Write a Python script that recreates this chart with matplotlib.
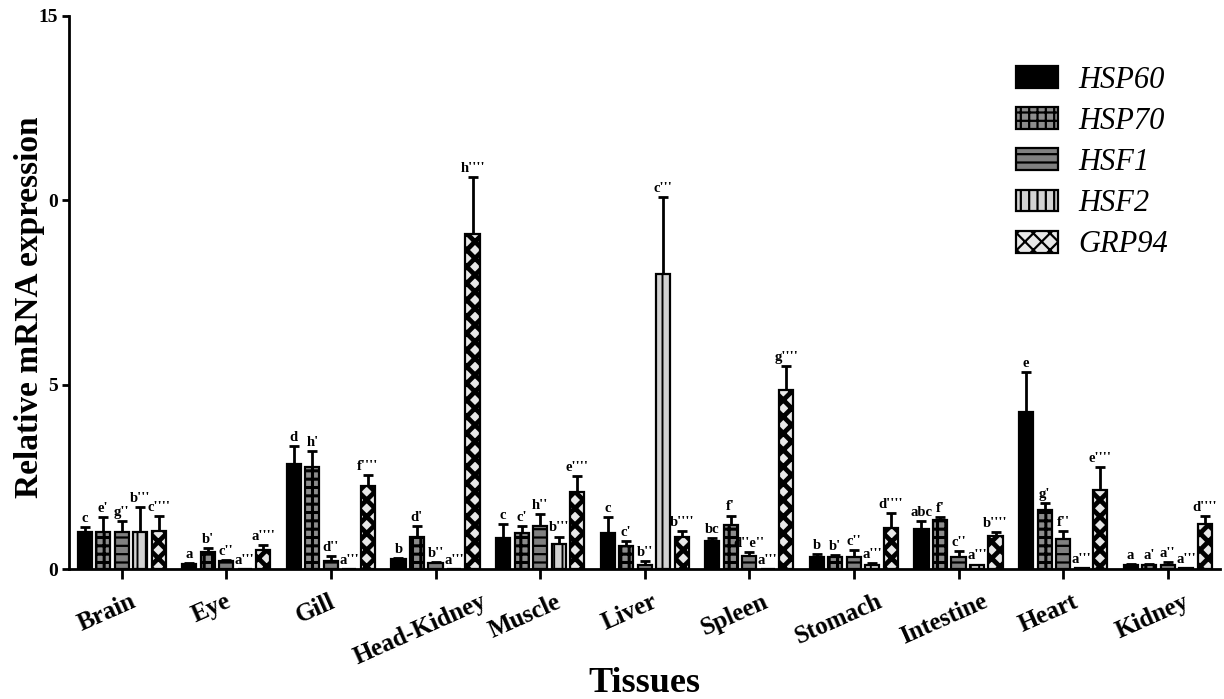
import matplotlib
matplotlib.use("Agg")
import matplotlib.pyplot as plt
import matplotlib.transforms as mtransforms
import numpy as np

# ---------------- data ----------------
tissues = ["Brain", "Eye", "Gill", "Head-Kidney", "Muscle", "Liver",
           "Spleen", "Stomach", "Intestine", "Heart", "Kidney"]
genes = ["HSP60", "HSP70", "HSF1", "HSF2", "GRP94"]

hsp60 = [1.00, 0.13, 2.85, 0.27, 0.84, 0.97, 0.75, 0.32, 1.09, 4.25, 0.12]
hsp60_err = [0.13, 0.02, 0.48, 0.03, 0.38, 0.43, 0.10, 0.09, 0.20, 1.09, 0.02]
hsp70 = [1.00, 0.46, 2.76, 0.88, 0.97, 0.63, 1.20, 0.32, 1.32, 1.61, 0.11]
hsp70_err = [0.40, 0.11, 0.44, 0.29, 0.20, 0.12, 0.25, 0.05, 0.08, 0.18, 0.02]
hsf1 = [1.00, 0.21, 0.23, 0.16, 1.17, 0.12, 0.35, 0.32, 0.32, 0.81, 0.12]
hsf1_err = [0.31, 0.04, 0.11, 0.04, 0.32, 0.10, 0.11, 0.20, 0.16, 0.21, 0.08]
hsf2 = [1.00, 0.01, 0.01, 0.01, 0.68, 7.99, 0.01, 0.12, 0.10, 0.02, 0.02]
hsf2_err = [0.67, 0.0, 0.0, 0.0, 0.20, 2.11, 0.0, 0.03, 0.02, 0.0, 0.0]
grp94 = [1.04, 0.52, 2.26, 9.10, 2.10, 0.88, 4.85, 1.11, 0.89, 2.14, 1.22]
grp94_err = [0.39, 0.12, 0.30, 1.54, 0.43, 0.14, 0.65, 0.41, 0.11, 0.63, 0.21]

hsp60_sig = ["c", "a", "d", "b", "c", "c", "bc", "b", "abc", "e", "a"]
hsp70_sig = ["e'", "b'", "h'", "d'", "c'", "c'", "f'", "b'", "f'", "g'", "a'"]
hsf1_sig = ["g''", "c''", "d''", "b''", "h''", "b''", "d''e''", "c''", "c''", "f''", "a''"]
hsf2_sig = ["b'''", "a'''", "a'''", "a'''", "b'''", "c'''", "a'''", "a'''", "a'''", "a'''", "a'''"]
grp94_sig = ["c''''", "a''''", "f''''", "h''''", "e''''", "b''''", "g''''", "d''''", "b''''", "e''''", "d''''"]

ytick_vals = [0, 5, 10, 15]
ytick_labels = ["0", "5", "0", "15"]

# ---------------- style ----------------
plt.rcParams['font.family'] = ['Liberation Serif', 'DejaVu Serif']
plt.rcParams['hatch.linewidth'] = 1.6

W, H = 1224, 699
fig = plt.figure(figsize=(W / 100, H / 100), dpi=100)
ax = fig.add_axes([69 / W, (H - 569) / H, (1220 - 69) / W, (569 - 16) / H])

x = np.arange(len(tissues))
offset = 0.177
width = 0.135

series = [
    (hsp60, hsp60_err, hsp60_sig, dict(facecolor="black", hatch=None)),
    (hsp70, hsp70_err, hsp70_sig, dict(facecolor="#8c8c8c", hatch="++")),
    (hsf1, hsf1_err, hsf1_sig, dict(facecolor="#808080", hatch="--")),
    (hsf2, hsf2_err, hsf2_sig, dict(facecolor="#d2d2d2", hatch="||")),
    (grp94, grp94_err, grp94_sig, dict(facecolor="#e8e8e8", hatch="xx")),
]
hatch_lw = [1.6, 2.2, 1.6, 1.4, 3.4]

handles = []
for i, (vals, errs, sigs, sty) in enumerate(series):
    pos = x + (i - 2) * offset
    with plt.rc_context({'hatch.linewidth': hatch_lw[i]}):
        bars = ax.bar(pos, vals, width, color=sty["facecolor"], edgecolor="black",
                      linewidth=1.6, hatch=sty["hatch"], label=genes[i], zorder=3)
    handles.append(bars)
    errs_arr = np.array(errs)
    ax.errorbar(pos, vals, yerr=[np.zeros_like(errs_arr), errs_arr], fmt="none",
                ecolor="black", elinewidth=2.0, capsize=3.5, capthick=2.0, zorder=2)
    for p, v, e, s in zip(pos, vals, errs, sigs):
        ax.annotate(s, (p, v + e), xytext=(0, 1.5), textcoords="offset points",
                    ha="center", va="bottom", fontsize=10.5, fontweight="bold")

ax.set_xlim(-0.504, 10.5)
ax.set_ylim(0, 15)
ax.set_yticks(ytick_vals)
ax.set_yticklabels(ytick_labels, fontsize=14, fontweight="bold")
ax.set_xticks(x)
ax.set_xticklabels([])

# rotated category labels, drawn from the tick positions
trans = mtransforms.blended_transform_factory(ax.transData, ax.transAxes) + \
    mtransforms.ScaledTranslation(-15 / 100, -21 / 100, fig.dpi_scale_trans)
for xi, name in zip(x, tissues):
    ax.text(xi, 0, name, transform=trans, rotation=24, ha="center", va="top",
            fontsize=18, fontweight="bold", clip_on=False)

for side in ["top", "right"]:
    ax.spines[side].set_visible(False)
for side in ["left", "bottom"]:
    ax.spines[side].set_linewidth(2.0)
ax.tick_params(axis="y", direction="out", length=5, width=2, pad=3)
ax.tick_params(axis="x", direction="out", length=7, width=2, pad=10)

fig.text(30 / W, (H - 307) / H, "Relative mRNA expression", rotation=90,
         ha="center", va="center", fontsize=24, fontweight="bold")
fig.text(644 / W, 7 / H, "Tissues", ha="center", va="baseline",
         fontsize=26, fontweight="bold")

leg = fig.legend(handles=handles, labels=genes, loc="upper left",
                 bbox_to_anchor=(988 / W, 1 - 38 / H), frameon=False,
                 prop={"family": "Liberation Serif", "style": "italic", "size": 22},
                 handlelength=1.4, handleheight=0.72, handletextpad=0.65,
                 labelspacing=0.4)

fig.savefig("out.png", dpi=100)
